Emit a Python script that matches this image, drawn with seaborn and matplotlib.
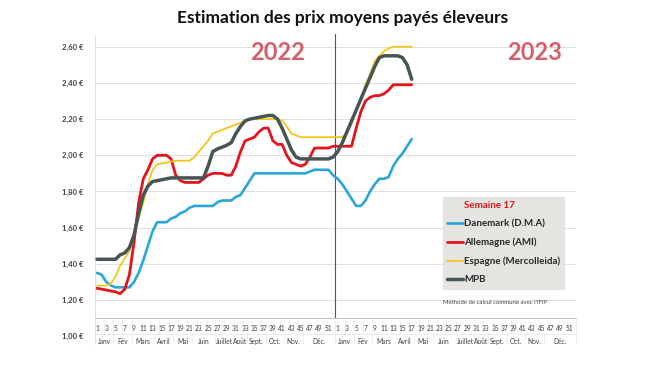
import numpy as np
import pandas as pd
import matplotlib.pyplot as plt
from matplotlib.lines import Line2D
import seaborn as sns

# Weekly average prices paid to farmers (EUR/kg), 2022 full year + 2023 up to week 17
danemark_2022 = [1.35, 1.34, 1.30, 1.28, 1.27, 1.27, 1.27, 1.27, 1.30, 1.35,
                 1.42, 1.50, 1.58, 1.63, 1.63, 1.63, 1.65, 1.66, 1.68, 1.69,
                 1.71, 1.72, 1.72, 1.72, 1.72, 1.72, 1.74, 1.75, 1.75, 1.75,
                 1.77, 1.78, 1.82, 1.86, 1.90, 1.90, 1.90, 1.90, 1.90, 1.90,
                 1.90, 1.90, 1.90, 1.90, 1.90, 1.90, 1.91, 1.92, 1.92, 1.92,
                 1.92, 1.89]
danemark_2023 = [1.87, 1.84, 1.80, 1.76, 1.72, 1.72, 1.75, 1.80, 1.84, 1.87,
                 1.87, 1.88, 1.94, 1.98, 2.01, 2.05, 2.09]

allemagne_2022 = [1.265, 1.26, 1.255, 1.25, 1.245, 1.235, 1.26, 1.34, 1.52, 1.74,
                  1.87, 1.92, 1.98, 2.00, 2.00, 2.00, 1.98, 1.89, 1.86, 1.85,
                  1.85, 1.85, 1.85, 1.87, 1.89, 1.90, 1.90, 1.90, 1.89, 1.89,
                  1.94, 2.02, 2.08, 2.09, 2.10, 2.13, 2.15, 2.15, 2.08, 2.06,
                  2.06, 2.00, 1.96, 1.95, 1.94, 1.95, 1.99, 2.04, 2.04, 2.04,
                  2.04, 2.05]
allemagne_2023 = [2.05, 2.05, 2.05, 2.05, 2.15, 2.24, 2.30, 2.32, 2.33, 2.33,
                  2.34, 2.36, 2.39, 2.39, 2.39, 2.39, 2.39]

espagne_2022 = [1.28, 1.28, 1.28, 1.29, 1.33, 1.39, 1.43, 1.47, 1.56, 1.65,
                1.74, 1.84, 1.92, 1.95, 1.955, 1.96, 1.965, 1.97, 1.97, 1.97,
                1.97, 1.99, 2.02, 2.05, 2.08, 2.12, 2.13, 2.14, 2.15, 2.16,
                2.17, 2.18, 2.19, 2.20, 2.20, 2.20, 2.20, 2.20, 2.20, 2.20,
                2.19, 2.16, 2.12, 2.11, 2.10, 2.10, 2.10, 2.10, 2.10, 2.10,
                2.10, 2.10]
espagne_2023 = [2.10, 2.10, 2.12, 2.17, 2.25, 2.32, 2.39, 2.45, 2.52, 2.55,
                2.575, 2.59, 2.60, 2.60, 2.60, 2.60, 2.60]

mpb_2022 = [1.425, 1.425, 1.425, 1.425, 1.425, 1.45, 1.46, 1.49, 1.56, 1.68,
            1.78, 1.83, 1.855, 1.86, 1.865, 1.87, 1.875, 1.875, 1.875, 1.875,
            1.875, 1.875, 1.875, 1.875, 1.94, 2.02, 2.035, 2.045, 2.055, 2.07,
            2.12, 2.16, 2.19, 2.20, 2.205, 2.21, 2.215, 2.22, 2.22, 2.20,
            2.15, 2.09, 2.03, 1.99, 1.98, 1.98, 1.98, 1.98, 1.98, 1.98,
            1.98, 1.99]
mpb_2023 = [2.02, 2.07, 2.13, 2.19, 2.25, 2.31, 2.37, 2.43, 2.49, 2.54,
            2.55, 2.55, 2.55, 2.55, 2.54, 2.50, 2.42]

weeks = list(range(1, 53))
months = ['Janv', 'Fév', 'Mars', 'Avril', 'Mai', 'Juin',
          'Juillet', 'Août', 'Sept.', 'Oct.', 'Nov.', 'Déc.']
weeks_per_month = [4, 4, 5, 4, 4, 5, 4, 3, 4, 4, 4, 7]
y_ticks = [1.00, 1.20, 1.40, 1.60, 1.80, 2.00, 2.20, 2.40, 2.60]

series = [
    ('Danemark (D.M.A)', danemark_2022 + danemark_2023, '#2ba6d8', 1.9),
    ('Allemagne (AMI)', allemagne_2022 + allemagne_2023, '#e3141c', 2.0),
    ('Espagne (Mercolleida)', espagne_2022 + espagne_2023, '#f4c51c', 1.3),
    ('MPB', mpb_2022 + mpb_2023, '#475556', 2.5),
]

sns.set_theme(style='white')
plt.rcParams['font.family'] = ['Lato', 'DejaVu Sans']

fig = plt.figure(figsize=(6.5, 3.66), dpi=100)
ax = fig.add_axes([0.1457, 0.0716, 0.7405, 0.8303])
n_cat = 2 * len(weeks)
ax.set_xlim(-0.5, n_cat - 0.5)
ax.set_ylim(0.98, 2.66)
sns.despine(ax=ax, left=True, bottom=True)

# gridlines
for v in y_ticks[1:]:
    ax.axhline(v, color='#d9d9d9', lw=0.6, zorder=0)

for name, vals, col, lw in series:
    df = pd.DataFrame({'pos': np.arange(len(vals)), 'prix': vals})
    sns.lineplot(data=df, x='pos', y='prix', color=col, linewidth=lw, ax=ax,
                 solid_capstyle='round', zorder=3)

# year separator
ax.plot([len(weeks) - 0.5] * 2, [1.10, 2.67], color='#555555', lw=0.8,
        clip_on=False, zorder=2)

# y axis labels
ax.set_yticks(y_ticks)
ax.set_yticklabels([f'{v:.2f} €'.replace('.', ',') for v in y_ticks],
                   fontsize=5.5, fontweight='bold', color='#404040')
ax.tick_params(axis='y', length=0, pad=8)
ax.set_xticks([])
ax.set_xlabel('')
ax.set_ylabel('')

# category table under the plot
ax.plot([-0.5, n_cat - 0.5], [1.10, 1.10], color='#bfbfbf', lw=0.7, clip_on=False)
ax.plot([-0.5, n_cat - 0.5], [1.012, 1.012], color='#e3e3e3', lw=0.5, clip_on=False)
ax.plot([-0.5, -0.5], [0.955, 2.66], color='#d9d9d9', lw=0.6, clip_on=False)
for yr in range(2):
    off = yr * len(weeks)
    for w in weeks:
        if w % 2 == 1:
            ax.text(off + w - 1, 1.045, str(w), ha='center', va='center',
                    fontsize=4.8, color='#404040')
        else:
            ax.plot([off + w - 0.5] * 2, [1.015, 1.10], color='#e3e3e3',
                    lw=0.4, clip_on=False)
    start = 0
    for m, cnt in zip(months, weeks_per_month):
        ax.text(off + start + (cnt - 1) / 2, 0.972, m, ha='center', va='center',
                fontsize=4.8, color='#404040', clip_on=False)
        start += cnt
        ax.plot([off + start - 0.5] * 2, [0.955, 1.012], color='#e3e3e3',
                lw=0.4, clip_on=False)

# year labels
ax.text(39, 2.57, '2022', ha='center', va='center', fontsize=17,
        fontweight='bold', color='#d5606a')
ax.text(94.5, 2.57, '2023', ha='center', va='center', fontsize=17,
        fontweight='bold', color='#d5606a')

fig.text(343 / 650, 1 - 18 / 366, 'Estimation des prix moyens payés éleveurs',
         ha='center', va='center', fontsize=12.5, fontweight='bold', color='#111111')

# legend
handles = [Line2D([], [], color='none')]
labels = ['Semaine 17']
for name, vals, col, lw in series:
    handles.append(Line2D([], [], color=col, lw=lw))
    labels.append(name)
leg = fig.legend(handles, labels, loc='upper left',
                 bbox_to_anchor=(443 / 650, 1 - 197 / 366), frameon=True,
                 fancybox=False, facecolor='#e6e4e1', edgecolor='#e6e4e1',
                 framealpha=1, prop={'weight': 'bold', 'size': 7},
                 handlelength=1.6, handletextpad=0.1, labelspacing=0.95,
                 borderpad=0.45, borderaxespad=0)
leg.get_texts()[0].set_color('#e3141c')

fig.text(443 / 650, 1 - 302 / 366, "Méthode de calcul commune avec l'IFIP",
         ha='left', va='center', fontsize=4.3, color='#404040')

fig.savefig('out.png', dpi=100)
